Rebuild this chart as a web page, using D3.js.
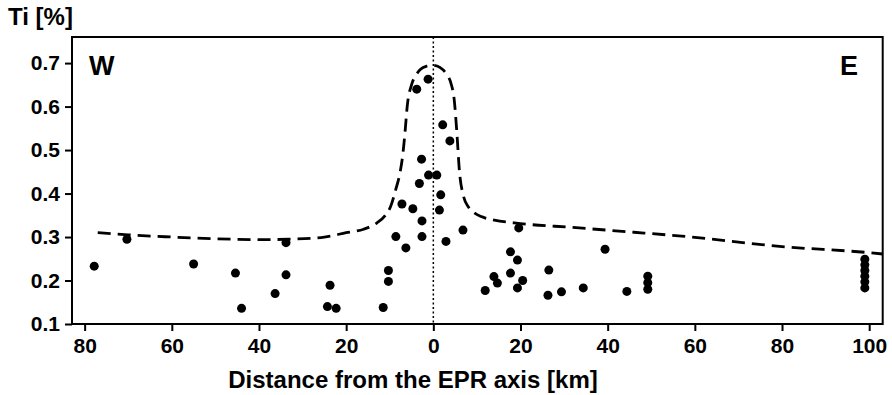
<!DOCTYPE html>
<html>
<head>
<meta charset="utf-8">
<script src="https://cdn.jsdelivr.net/npm/d3@7"></script>
<style>
  body { margin: 0; background: #fff; }
  svg text { font-family: "Liberation Sans", Arial, sans-serif; font-weight: bold; fill: #000; }
</style>
</head>
<body>
<svg id="canvas" width="892" height="395"></svg>
<script>
// distance from axis (W negative, E positive) in km, Ti in %
let distKm = [-77.8, -70.3, -55.0, -45.4, -44.0, -36.3, -33.8, -33.8, -23.7, -24.3,
              -22.3, -11.5, -10.3, -10.3, -8.6, -6.3, -7.2, -4.7, -2.6, -2.6,
              -3.2, 1.7, 1.4, 2.9, 6.8, -2.7, -1.1, 0.8, -1.2, -3.8,
              2.15, 3.8, 11.9, 13.9, 14.7, 17.7, 19.3, 17.7, 20.5, 19.3,
              19.6, 26.5, 26.3, 29.4, 34.4, 39.4, 44.4, 49.2, 49.2, 49.2,
              99, 99, 99, 99, 99, 99]
let tiPct = [0.233, 0.295, 0.238, 0.217, 0.136, 0.170, 0.287, 0.213, 0.189, 0.140,
             0.136, 0.138, 0.223, 0.198, 0.301, 0.275, 0.376, 0.365, 0.337, 0.301,
             0.423, 0.397, 0.362, 0.290, 0.316, 0.479, 0.4425, 0.4425, 0.663, 0.640,
             0.558, 0.521, 0.177, 0.209, 0.194, 0.266, 0.247, 0.217, 0.200, 0.183,
             0.321, 0.224, 0.166, 0.174, 0.183, 0.272, 0.175, 0.210, 0.195, 0.180,
             0.249, 0.236, 0.223, 0.210, 0.197, 0.183]

// dashed envelope
let envX = [-77, -70, -60, -50, -40, -33, -25, -20, -16, -13, -11, -9.8, -8.6, -7.6, -7, -6.5, -6, -5, -4, -3,
            -1.5, 0, 1.5, 3, 4, 4.8, 5.4, 6, 6.9, 8, 9.5, 11, 14, 20, 32, 46, 57, 80, 100, 103.1]
let envY = [0.31, 0.305, 0.30, 0.296, 0.294, 0.295, 0.30, 0.31, 0.318, 0.332, 0.35, 0.37, 0.41, 0.45, 0.49, 0.54, 0.60, 0.65, 0.672, 0.685,
            0.693, 0.695, 0.69, 0.675, 0.655, 0.615, 0.54, 0.45, 0.395, 0.37, 0.355, 0.347, 0.339, 0.331, 0.322, 0.311, 0.302, 0.278, 0.264, 0.261]

let xTicks = [-80, -60, -40, -20, 0, 20, 40, 60, 80, 100]
let yTicks = [0.1, 0.2, 0.3, 0.4, 0.5, 0.6, 0.7]

let canvas = d3.select('#canvas')

let pLeft = 72, pRight = 882.7, pTop = 37, pBottom = 324

let xScale = d3.scaleLinear().domain([-82.9, 103.1]).range([pLeft, pRight])
let yScale = d3.scaleLinear().domain([0.1, 0.76]).range([pBottom, pTop])

// axes
let xAxis = d3.axisBottom(xScale).tickValues(xTicks)
    .tickFormat(d => Math.abs(d)).tickSizeOuter(0).tickSize(7).tickPadding(7)
let yAxis = d3.axisLeft(yScale).tickValues(yTicks)
    .tickFormat(d3.format('.1f')).tickSizeOuter(0).tickSize(7).tickPadding(5)

let gx = canvas.append('g').attr('transform', `translate(0,${pBottom})`).call(xAxis)
let gy = canvas.append('g').attr('transform', `translate(${pLeft},0)`).call(yAxis)
gx.select('.domain').remove()
gy.select('.domain').remove()
canvas.selectAll('.tick line').attr('stroke', '#000').attr('stroke-width', 2)
canvas.selectAll('.tick text').style('font-size', '21px').style('font-family', '"Liberation Sans", Arial, sans-serif').style('font-weight', 'bold')

// vertical dotted line at the axis
canvas.append('line')
    .attr('x1', xScale(0)).attr('x2', xScale(0))
    .attr('y1', pTop).attr('y2', pBottom)
    .attr('stroke', '#000').attr('stroke-width', 1.5)
    .attr('stroke-dasharray', '2,2.5')

// envelope
let line = d3.line()
    .x((d, i) => xScale(envX[i]))
    .y(d => yScale(d))
    .curve(d3.curveMonotoneX)

canvas.append('path')
    .attr('d', line(envY))
    .attr('fill', 'none')
    .attr('stroke', '#000')
    .attr('stroke-width', 2.8)
    .attr('stroke-dasharray', '13,7')

// points
canvas.selectAll('circle.pt')
    .data(distKm)
    .enter().append('circle')
    .attr('class', 'pt')
    .attr('cx', d => xScale(d))
    .attr('cy', (d, i) => yScale(tiPct[i]))
    .attr('r', 4.5)
    .attr('fill', '#000')

// frame
canvas.append('rect')
    .attr('x', pLeft).attr('y', pTop)
    .attr('width', pRight - pLeft).attr('height', pBottom - pTop)
    .attr('fill', 'none').attr('stroke', '#000').attr('stroke-width', 2)

// labels
canvas.append('text').attr('x', 8).attr('y', 25).style('font-size', '24px').text('Ti [%]')
canvas.append('text').attr('x', 89).attr('y', 75).style('font-size', '27px').text('W')
canvas.append('text').attr('x', 840).attr('y', 75).style('font-size', '27px').text('E')
canvas.append('text').attr('x', 413).attr('y', 388).attr('text-anchor', 'middle')
    .style('font-size', '24px').text('Distance from the EPR axis [km]')
</script>
</body>
</html>
